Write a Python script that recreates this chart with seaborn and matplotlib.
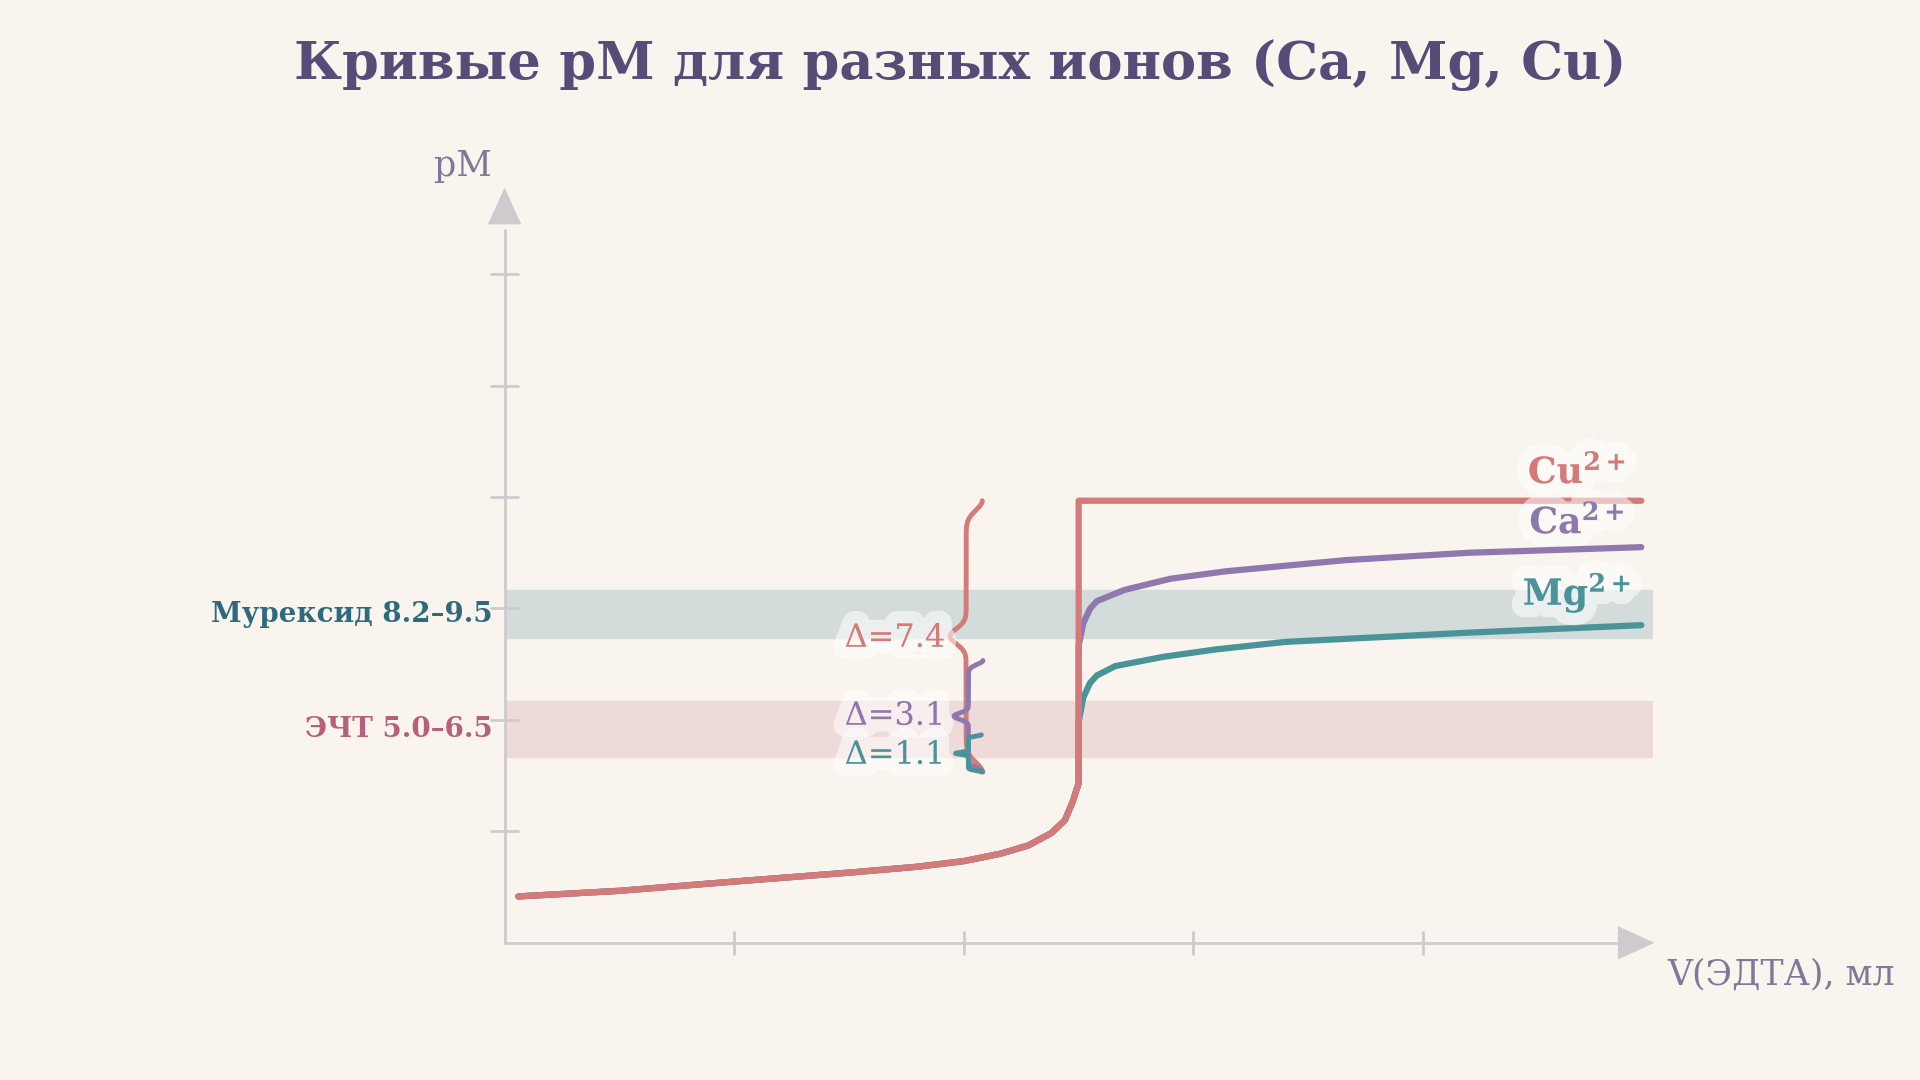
import matplotlib
matplotlib.use("Agg")
import matplotlib.pyplot as plt
import matplotlib.patheffects as pe
import seaborn as sns
import pandas as pd
import numpy as np

sns.set_theme(style="white")
plt.rcParams['font.family'] = ['DejaVu Serif', 'DejaVu Sans']
plt.rcParams['mathtext.fontset'] = 'dejavuserif'

# ---- data ----
pre_v = [0.3, 2.5, 5.0, 7.6, 9.0, 10.0, 10.8, 11.4, 11.9, 12.2, 12.37, 12.5]
pre_pm = [1.25, 1.4, 1.65, 1.9, 2.05, 2.2, 2.4, 2.62, 2.95, 3.3, 3.8, 4.3]
cu_v = [12.5, 24.75]
cu_pm = [11.9, 11.9]
ca_v = [12.5, 12.6, 12.75, 12.9, 13.5, 14.5, 15.7, 18.3, 21.0, 24.75]
ca_pm = [8.0, 8.6, 9.0, 9.2, 9.5, 9.8, 10.0, 10.3, 10.5, 10.65]
mg_v = [12.5, 12.6, 12.75, 12.9, 13.3, 14.35, 15.5, 17.0, 21.0, 24.75]
mg_pm = [5.95, 6.6, 7.0, 7.2, 7.45, 7.7, 7.9, 8.1, 8.35, 8.55]
bands = {"Мурексид 8.2–9.5": (8.2, 9.5), "ЭЧТ 5.0–6.5": (5.0, 6.5)}
deltas = {"Cu": 7.4, "Ca": 3.1, "Mg": 1.1}

BG = "#FAF4EE"
C = {"Cu": "#D47A78", "Ca": "#8E78AE", "Mg": "#4A9499"}
AX = "#CFCACE"

fig = plt.figure(figsize=(19.2, 10.8), dpi=100, facecolor=BG)
ax = fig.add_axes([0.2628, 0.127, 0.598, 0.688])
ax.set_facecolor(BG)
ax.set_xlim(0, 25)
ax.set_ylim(0, 20)
for s in ax.spines.values():
    s.set_visible(False)
ax.set_xticks([]); ax.set_yticks([])

ax.axhspan(*bands["Мурексид 8.2–9.5"], color="#D3DCDA", zorder=1)
ax.axhspan(*bands["ЭЧТ 5.0–6.5"], color="#EEDAD9", zorder=1)

def curve(v, pm, col):
    df = pd.DataFrame({"v": v, "pM": pm})
    sns.lineplot(data=df, x="v", y="pM", ax=ax, color=col, lw=4.5, sort=False,
                 estimator=None, zorder=4, solid_joinstyle="round")

curve(pre_v + mg_v, pre_pm + mg_pm, C["Mg"])
curve(pre_v + ca_v, pre_pm + ca_pm, C["Ca"])
curve(pre_v + cu_v, pre_pm + cu_pm, C["Cu"])
ax.set_xlabel(""); ax.set_ylabel("")

ax.plot([0, 24.2], [0, 0], color=AX, lw=2, clip_on=False, zorder=2)
ax.plot([0, 0], [0, 19.2], color=AX, lw=2, clip_on=False, zorder=2)
ax.annotate("", xy=(25.1, 0), xytext=(23.9, 0), arrowprops=dict(arrowstyle="-|>,head_length=2.2,head_width=1.0", color=AX, lw=0), annotation_clip=False)
ax.annotate("", xy=(0, 20.4), xytext=(0, 18.9), arrowprops=dict(arrowstyle="-|>,head_length=2.2,head_width=1.0", color=AX, lw=0), annotation_clip=False)
for t in [5, 10, 15, 20]:
    ax.plot([t, t], [-0.3, 0.3], color=AX, lw=2, clip_on=False)
for t in [3, 6, 9, 12, 15, 18]:
    ax.plot([-0.3, 0.3], [t, t], color=AX, lw=2, clip_on=False)
ax.text(-0.9, 20.9, "pM", color="#7F7896", fontsize=25, ha="center", va="center")
ax.text(27.8, -0.85, "V(ЭДТА), мл", color="#7F7896", fontsize=25, ha="center", va="center")

ax.text(-0.25, 8.85, "Мурексид 8.2–9.5", color="#2E6A7C", fontsize=20, fontweight="bold", ha="right", va="center")
ax.text(-0.25, 5.75, "ЭЧТ 5.0–6.5", color="#B8607A", fontsize=20, fontweight="bold", ha="right", va="center")

glow = [pe.withStroke(linewidth=18, foreground=(1, 1, 1, 0.55))]

ax.text(23.35, 12.65, r"Cu$^{\mathbf{2+}}$", color=C["Cu"], fontsize=26, fontweight="bold", ha="center", va="center", path_effects=glow, zorder=6)
ax.text(23.35, 11.3, r"Ca$^{\mathbf{2+}}$", color=C["Ca"], fontsize=26, fontweight="bold", ha="center", va="center", path_effects=glow, zorder=6)
ax.text(23.35, 9.4, r"Mg$^{\mathbf{2+}}$", color=C["Mg"], fontsize=26, fontweight="bold", ha="center", va="center", path_effects=glow, zorder=6)

def brace(x, y0, y1, col, w=0.45, lw=3.5):
    ys = np.linspace(y0, y1, 500)
    u = (ys - y0) / (y1 - y0)
    xs = x + w * (0.7 * np.exp(-(u / 0.05) ** 2) + 0.7 * np.exp(-((u - 1) / 0.05) ** 2)
                  - 0.7 * np.exp(-((u - 0.5) / 0.04) ** 2))
    ax.plot(xs, ys, color=col, lw=lw, zorder=5, solid_capstyle="round")

brace(10.05, 4.6, 11.9, C["Cu"], w=0.5)
brace(10.1, 4.6, 7.6, C["Ca"], w=0.45)
brace(10.1, 4.6, 5.6, C["Mg"], w=0.4)
ax.text(8.5, 8.2, f"Δ={deltas['Cu']}", color=C["Cu"], fontsize=23, ha="center", va="center", path_effects=glow, zorder=6)
ax.text(8.5, 6.1, f"Δ={deltas['Ca']}", color=C["Ca"], fontsize=23, ha="center", va="center", path_effects=glow, zorder=6)
ax.text(8.5, 5.05, f"Δ={deltas['Mg']}", color=C["Mg"], fontsize=23, ha="center", va="center", path_effects=glow, zorder=6)

fig.text(0.5, 0.94, "Кривые pM для разных ионов (Ca, Mg, Cu)", color="#574C78", fontsize=38, fontweight="bold", ha="center", va="center")

fig.savefig("out.png", dpi=100, facecolor=BG)
